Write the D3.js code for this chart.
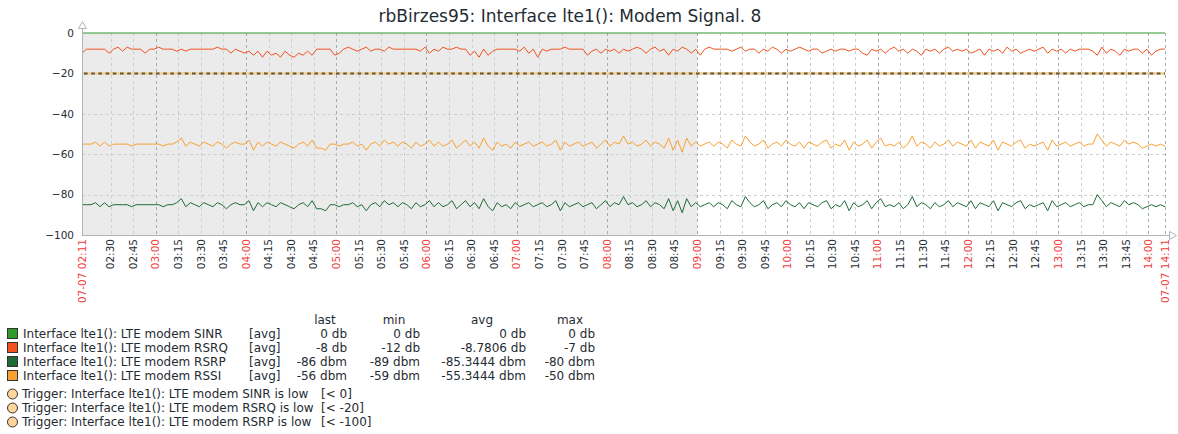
<!DOCTYPE html>
<html>
<head>
<meta charset="utf-8">
<script src="https://cdn.jsdelivr.net/npm/d3@7"></script>
<style>
  body { margin: 0; background: #fff; }
  svg { display: block; font-family: "DejaVu Sans", sans-serif; }
</style>
</head>
<body>
<div id="chart"></div>
<script>
// values sampled every 3 minutes from 07-07 02:11 to 07-07 14:11
const stepMinutes = 3;

const rsrq = [
  -10, -8, -8, -8, -8, -8, -10, -8, -7, -9, -7, -8, -8, -8, -10, -8, -8, -7, -8, -8,
  -8, -9, -8, -9, -8, -8, -8, -8, -8, -8, -7, -8, -8, -10, -8, -9, -10, -9, -11, -9,
  -12, -9, -11, -10, -12, -9, -11, -12, -10, -11, -9, -11, -8, -8, -8, -8, -11, -10, -8, -7,
  -8, -9, -8, -7, -9, -8, -8, -9, -7, -8, -8, -8, -8, -8, -8, -9, -7, -10, -8, -9,
  -7, -8, -8, -7, -8, -8, -11, -9, -12, -8, -11, -9, -8, -8, -8, -8, -8, -9, -7, -10,
  -8, -12, -8, -9, -8, -8, -8, -7, -8, -8, -8, -8, -11, -9, -8, -10, -8, -9, -8, -10,
  -8, -9, -8, -7, -8, -10, -8, -7, -9, -8, -11, -8, -9, -7, -8, -10, -8, -11, -8, -7,
  -8, -8, -8, -8, -9, -8, -7, -9, -8, -8, -10, -8, -9, -7, -8, -10, -8, -9, -8, -7,
  -8, -9, -8, -8, -10, -9, -8, -9, -8, -8, -9, -8, -8, -10, -11, -8, -9, -8, -10, -8,
  -7, -9, -8, -10, -8, -9, -11, -8, -9, -8, -10, -8, -7, -9, -8, -9, -8, -10, -9, -8,
  -11, -8, -9, -8, -10, -7, -9, -8, -10, -9, -8, -9, -8, -7, -10, -8, -9, -8, -10, -8,
  -9, -8, -8, -8, -9, -11, -7, -10, -8, -9, -11, -8, -9, -8, -8, -10, -8, -11, -9, -8,
  -8
];

const rsrp = [
  -85, -85, -85, -84, -86, -84, -86, -85, -85, -85, -85, -86, -85, -85, -85, -85, -85, -85, -86, -85,
  -85, -84, -82, -86, -84, -85, -86, -84, -85, -86, -84, -85, -87, -85, -84, -85, -85, -83, -88, -84,
  -86, -84, -85, -86, -84, -85, -86, -87, -85, -84, -86, -83, -87, -87, -88, -85, -85, -86, -85, -85,
  -84, -86, -85, -88, -85, -84, -86, -83, -85, -84, -86, -84, -85, -87, -84, -86, -85, -83, -86, -84,
  -86, -85, -83, -87, -85, -83, -86, -84, -87, -82, -86, -88, -84, -86, -85, -87, -84, -86, -85, -84,
  -86, -85, -84, -86, -85, -83, -88, -84, -86, -85, -84, -86, -85, -84, -87, -85, -83, -86, -84, -85,
  -81, -85, -84, -86, -85, -83, -86, -84, -85, -87, -82, -88, -83, -89, -82, -86, -84, -86, -85, -84,
  -86, -84, -85, -87, -83, -85, -86, -81, -84, -86, -85, -83, -87, -85, -84, -86, -83, -85, -86, -84,
  -87, -84, -85, -86, -84, -83, -87, -85, -86, -83, -88, -84, -86, -85, -83, -87, -84, -82, -86, -85,
  -86, -84, -87, -85, -81, -86, -84, -85, -87, -84, -86, -85, -83, -86, -84, -85, -86, -83, -87, -84,
  -85, -86, -83, -88, -84, -85, -86, -84, -83, -87, -85, -86, -85, -84, -88, -83, -86, -85, -84, -86,
  -85, -84, -86, -85, -85, -80, -83, -86, -84, -85, -86, -83, -85, -84, -85, -87, -86, -85, -86, -85,
  -86
];

const rssi = [
  -55, -55, -55, -54, -56, -54, -56, -55, -55, -55, -55, -56, -55, -55, -55, -55, -55, -55, -56, -55,
  -55, -54, -52, -56, -54, -55, -56, -54, -55, -56, -54, -55, -57, -55, -54, -55, -55, -53, -58, -54,
  -56, -54, -55, -56, -54, -55, -56, -57, -55, -54, -56, -53, -57, -57, -58, -55, -55, -56, -55, -55,
  -54, -56, -55, -58, -55, -54, -56, -53, -55, -54, -56, -54, -55, -57, -54, -56, -55, -53, -56, -54,
  -56, -55, -53, -57, -55, -53, -56, -54, -57, -52, -56, -58, -54, -56, -55, -57, -54, -56, -55, -54,
  -56, -55, -54, -56, -55, -53, -58, -54, -56, -55, -54, -56, -55, -54, -57, -55, -53, -56, -54, -55,
  -51, -55, -54, -56, -55, -53, -56, -54, -55, -57, -52, -58, -53, -59, -52, -56, -54, -56, -55, -54,
  -56, -54, -55, -57, -53, -55, -56, -51, -54, -56, -55, -53, -57, -55, -54, -56, -53, -55, -56, -54,
  -57, -54, -55, -56, -54, -53, -57, -55, -56, -53, -58, -54, -56, -55, -53, -57, -54, -52, -56, -55,
  -56, -54, -57, -55, -51, -56, -54, -55, -57, -54, -56, -55, -53, -56, -54, -55, -56, -53, -57, -54,
  -55, -56, -53, -58, -54, -55, -56, -54, -53, -57, -55, -56, -55, -54, -58, -53, -56, -55, -54, -56,
  -55, -54, -56, -55, -55, -50, -53, -56, -54, -55, -56, -53, -55, -54, -55, -57, -56, -55, -56, -55,
  -56
];

// SINR stayed at 0 for the whole period (start and end minute)
const sinrMinutes = [0, 720];
const sinr = [0, 0];

const yTicks = [0, -20, -40, -60, -80, -100];

const legendNames = [
  "Interface lte1(): LTE modem SINR",
  "Interface lte1(): LTE modem RSRQ",
  "Interface lte1(): LTE modem RSRP",
  "Interface lte1(): LTE modem RSSI"
];
const legendColors = ["#2e9a2a", "#f4501e", "#1d6b34", "#f9a030"];
const legendLast = ["0 db", "-8 db", "-86 dbm", "-56 dbm"];
const legendMin = ["0 db", "-12 db", "-89 dbm", "-59 dbm"];
const legendAvg = ["0 db", "-8.7806 db", "-85.3444 dbm", "-55.3444 dbm"];
const legendMax = ["0 db", "-7 db", "-80 dbm", "-50 dbm"];

const triggerNames = [
  "Trigger: Interface lte1(): LTE modem SINR is low",
  "Trigger: Interface lte1(): LTE modem RSRQ is low",
  "Trigger: Interface lte1(): LTE modem RSRP is low"
];
const triggerLabels = ["[< 0]", "[< -20]", "[< -100]"];
const triggerValue = -20; // the only trigger line inside the plot

const w = 1178;
const h = 434;
const start = new Date(2023, 6, 7, 2, 11);
const end = new Date(2023, 6, 7, 14, 11);
const workStart = new Date(2023, 6, 7, 9, 0);

const svg = d3.select("#chart").append("svg")
    .attr("width", w)
    .attr("height", h);

const x = d3.scaleTime().domain([start, end]).range([82, 1165]);
const y = d3.scaleLinear().domain([-100, 0]).range([235, 33]);

const at = (i, step) => d3.timeMinute.offset(start, i * step);

// title
svg.append("text")
    .attr("x", 570)
    .attr("y", 22)
    .attr("text-anchor", "middle")
    .style("font-size", "17px")
    .style("fill", "#1f2c33")
    .text("rbBirzes95: Interface lte1(): Modem Signal. 8");

// non-working time shading
svg.append("rect")
    .attr("x", x(start))
    .attr("y", y(0))
    .attr("width", x(workStart) - x(start))
    .attr("height", y(-100) - y(0))
    .style("fill", "#ebebeb");

// grid
const ticks = d3.timeMinute.every(15).range(start, end)
    .filter(t => (t - start) > 10 * 60000);

svg.append("g").selectAll("line")
    .data(ticks)
    .enter()
    .append("line")
    .attr("x1", d => Math.round(x(d)) + 0.5)
    .attr("x2", d => Math.round(x(d)) + 0.5)
    .attr("y1", y(0))
    .attr("y2", y(-100))
    .style("stroke", d => d.getMinutes() === 0 ? "#a3acb1" : "#c8d0d5")
    .style("stroke-dasharray", "3,3");

svg.append("line")
    .attr("x1", Math.round(x(end)) + 0.5)
    .attr("x2", Math.round(x(end)) + 0.5)
    .attr("y1", y(0))
    .attr("y2", y(-100))
    .style("stroke", "#a3acb1")
    .style("stroke-dasharray", "3,3");

svg.append("g").selectAll("line")
    .data(yTicks.filter(v => v !== 0 && v !== -100))
    .enter()
    .append("line")
    .attr("x1", x(start))
    .attr("x2", x(end))
    .attr("y1", d => Math.round(y(d)) + 0.5)
    .attr("y2", d => Math.round(y(d)) + 0.5)
    .style("stroke", "#c8d0d5")
    .style("stroke-dasharray", "3,3");

// trigger line
svg.append("line")
    .attr("x1", x(start)).attr("x2", x(end))
    .attr("y1", y(triggerValue)).attr("y2", y(triggerValue))
    .style("stroke", "#f7d497")
    .style("stroke-width", 3);
svg.append("line")
    .attr("x1", x(start) + 2).attr("x2", x(end))
    .attr("y1", y(triggerValue)).attr("y2", y(triggerValue))
    .style("stroke", "#555")
    .style("stroke-width", 2)
    .style("stroke-dasharray", "3.6,3.6");

// series
const line = d3.line()
    .x(d => x(d[0]))
    .y(d => y(d[1]));

const series = [
  { values: rsrq.map((v, i) => [at(i, stepMinutes), v]), color: legendColors[1] },
  { values: rssi.map((v, i) => [at(i, stepMinutes), v]), color: legendColors[3] },
  { values: rsrp.map((v, i) => [at(i, stepMinutes), v]), color: legendColors[2] },
  { values: sinr.map((v, i) => [at(sinrMinutes[i], 1), v]), color: legendColors[0] }
];

svg.append("g").selectAll("path")
    .data(series)
    .enter()
    .append("path")
    .attr("d", d => line(d.values))
    .style("fill", "none")
    .style("stroke", d => d.color)
    .style("stroke-width", 1);

// axes
const axisColor = "#acb5ba";
svg.append("line")
    .attr("x1", 82.5).attr("x2", 82.5).attr("y1", 28).attr("y2", 235)
    .style("stroke", axisColor);
svg.append("line")
    .attr("x1", 82).attr("x2", 1169).attr("y1", 235.5).attr("y2", 235.5)
    .style("stroke", axisColor);
svg.append("path")
    .attr("d", "M78.5,28.5 L86.5,28.5 L82.5,21.5 Z")
    .style("fill", "#fff").style("stroke", axisColor);
svg.append("path")
    .attr("d", "M1169.5,231.5 L1169.5,239.5 L1176.5,235.5 Z")
    .style("fill", "#fff").style("stroke", axisColor);

const yAxis = svg.append("g")
    .attr("transform", "translate(82,0)")
    .call(d3.axisLeft(y).tickValues(yTicks).tickSize(0).tickPadding(8));
yAxis.select(".domain").remove();
yAxis.selectAll("text")
    .style("font-size", "10.5px")
    .style("font-family", "DejaVu Sans")
    .style("fill", "#1f2c33");

const xLabels = [start].concat(ticks).concat([end]);
const fmtShort = d3.timeFormat("%H:%M");
const fmtLong = d3.timeFormat("%m-%d %H:%M");

svg.append("g").selectAll("text")
    .data(xLabels)
    .enter()
    .append("text")
    .attr("transform", d => `translate(${x(d)},239) rotate(-90)`)
    .attr("dy", "0.36em")
    .attr("text-anchor", "end")
    .style("font-size", "10.5px")
    .style("fill", d => (d === start || d === end || d.getMinutes() === 0) ? "#f03c3c" : "#1f2c33")
    .text(d => (d === start || d === end) ? fmtLong(d) : fmtShort(d));

// legend
const lg = svg.append("g").style("font-size", "12px").style("fill", "#1f2c33");

const headers = [["last", 325], ["min", 394], ["avg", 482], ["max", 570]];
lg.selectAll(".hdr")
    .data(headers)
    .enter()
    .append("text")
    .attr("x", d => d[1])
    .attr("y", 324)
    .attr("text-anchor", "middle")
    .text(d => d[0]);

const rowY = i => 338 + i * 14;

lg.selectAll("rect")
    .data(legendNames)
    .enter()
    .append("rect")
    .attr("x", 7.5)
    .attr("y", (d, i) => rowY(i) - 9.5)
    .attr("width", 10)
    .attr("height", 10)
    .style("fill", (d, i) => legendColors[i])
    .style("stroke", "#333");

lg.selectAll(".name")
    .data(legendNames)
    .enter()
    .append("text")
    .attr("x", 23)
    .attr("y", (d, i) => rowY(i))
    .text(d => d);

lg.selectAll(".fn")
    .data(legendNames)
    .enter()
    .append("text")
    .attr("x", 249)
    .attr("y", (d, i) => rowY(i))
    .text("[avg]");

const columns = [[legendLast, 347], [legendMin, 420], [legendAvg, 526], [legendMax, 595]];
columns.forEach(col => {
  lg.append("g").selectAll("text")
    .data(col[0])
    .enter()
    .append("text")
    .attr("x", col[1])
    .attr("y", (d, i) => rowY(i))
    .attr("text-anchor", "end")
    .text(d => d);
});

const trigY = i => 398 + i * 14;

lg.selectAll("circle")
    .data(triggerNames)
    .enter()
    .append("circle")
    .attr("cx", 12.5)
    .attr("cy", (d, i) => trigY(i) - 4)
    .attr("r", 5)
    .style("fill", "#ffd699")
    .style("stroke", "#333");

lg.selectAll(".trig")
    .data(triggerNames)
    .enter()
    .append("text")
    .attr("x", 22)
    .attr("y", (d, i) => trigY(i))
    .text(d => d);

lg.selectAll(".trigv")
    .data(triggerLabels)
    .enter()
    .append("text")
    .attr("x", 321)
    .attr("y", (d, i) => trigY(i))
    .text(d => d);
</script>
</body>
</html>
